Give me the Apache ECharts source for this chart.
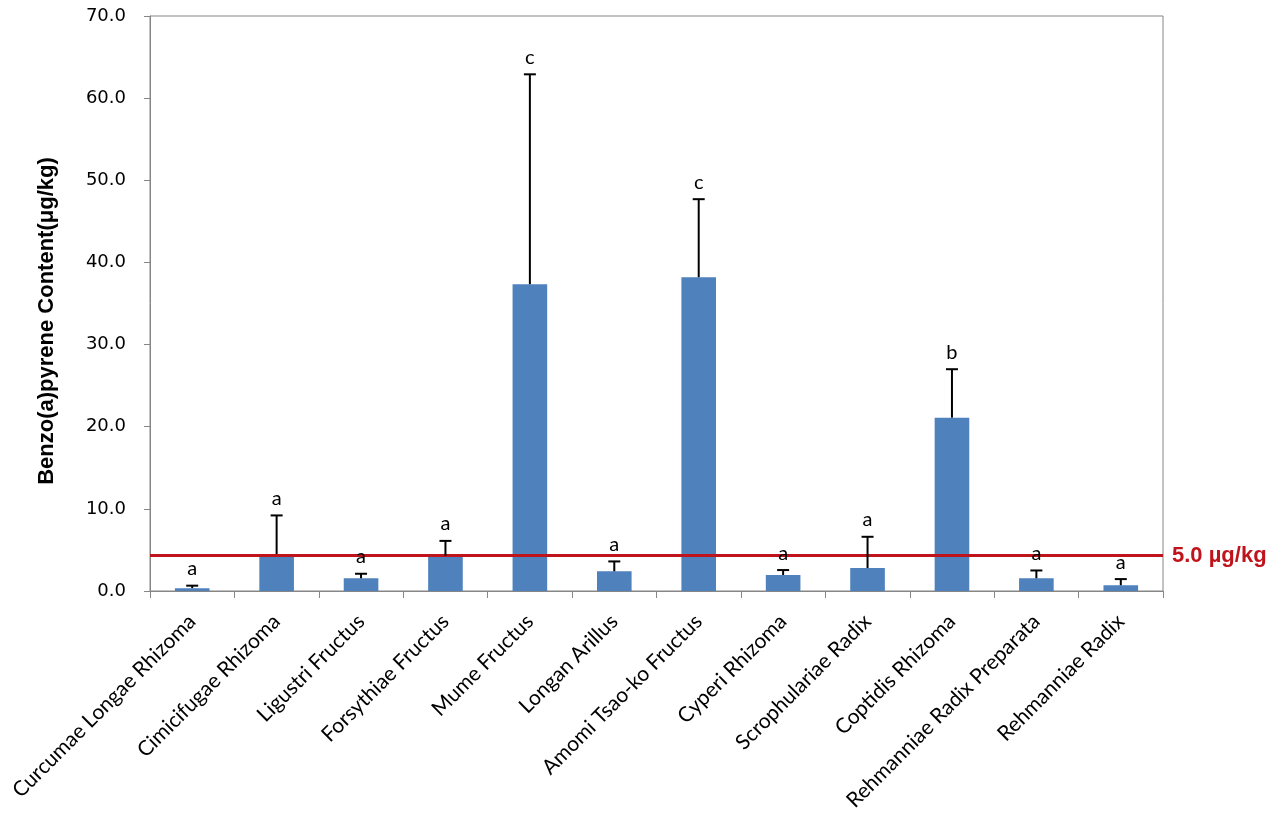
<!DOCTYPE html>
<html>
<head>
<meta charset="utf-8">
<script src="https://cdn.jsdelivr.net/npm/echarts@6/dist/echarts.min.js"></script>
<style>html,body{margin:0;padding:0;background:#fff}#c{width:1288px;height:818px}</style>
</head>
<body>
<div id="c"></div>
<script>
const categories = ['Curcumae Longae Rhizoma','Cimicifugae Rhizoma','Ligustri Fructus','Forsythiae Fructus','Mume Fructus','Longan Arillus','Amomi Tsao-ko Fructus','Cyperi Rhizoma','Scrophulariae Radix','Coptidis Rhizoma','Rehmanniae Radix Preparata','Rehmanniae Radix'];
const means = [0.35, 4.5, 1.55, 4.3, 37.35, 2.4, 38.2, 1.95, 2.8, 21.1, 1.55, 0.7];
const sds = [0.3, 4.7, 0.55, 1.8, 25.55, 1.2, 9.5, 0.6, 3.8, 5.9, 0.95, 0.75];
const letters = ['a','a','a','a','c','a','c','a','a','b','a','a'];
const yTicks = [0, 10, 20, 30, 40, 50, 60, 70];
const limitValue = 4.3;
const limitLabel = '5.0 µg/kg';
const yTitle = 'Benzo(a)pyrene Content(μg/kg)';

const chart = echarts.init(document.getElementById('c'), null, {renderer: 'canvas'});
const axisColor = '#868686';
chart.setOption({
  animation: false,
  grid: {left: 150, right: 125, top: 16, bottom: 227, show: true, borderColor: axisColor, borderWidth: 1, backgroundColor: 'transparent'},
  graphic: [{
    type: 'text', x: 47, y: 321, rotation: Math.PI / 2,
    style: {text: yTitle, align: 'center', verticalAlign: 'middle', fill: '#000', font: 'bold 22px "Liberation Sans"'}
  }],
  xAxis: {
    type: 'category', data: categories,
    axisLine: {lineStyle: {color: axisColor, width: 1}},
    axisTick: {show: true, length: 7, lineStyle: {color: axisColor}},
    axisLabel: {rotate: 45, interval: 0, margin: 27, color: '#000', fontFamily: 'Lato', fontSize: 21}
  },
  yAxis: {
    type: 'value', min: yTicks[0], max: yTicks[yTicks.length-1], interval: 10,
    axisLine: {show: true, lineStyle: {color: axisColor, width: 1}},
    axisTick: {show: true, length: 6, inside: false, lineStyle: {color: axisColor}},
    splitLine: {show: false},
    axisLabel: {formatter: v => v.toFixed(1), color: '#000', fontFamily: 'DejaVu Sans', fontSize: 18, margin: 24}
  },
  series: [
    {
      type: 'bar', data: means, barWidth: '41%',
      itemStyle: {color: '#4F81BD'},
      markLine: {
        silent: true, symbol: 'none',
        data: [{yAxis: limitValue}],
        lineStyle: {color: '#C0141C', width: 3, type: 'solid'},
        label: {show: true, position: 'end', formatter: limitLabel, color: '#C0141C', fontFamily: 'Liberation Sans', fontWeight: 'bold', fontSize: 22, distance: [9, 4]}
      }
    },
    {
      type: 'custom',
      data: means.map((m, i) => [i, m, m + sds[i]]),
      z: 5,
      renderItem: function (params, api) {
        const x = api.coord([api.value(0), api.value(1)])[0];
        const y0 = api.coord([api.value(0), api.value(1)])[1];
        const y1 = api.coord([api.value(0), api.value(2)])[1];
        const capHalf = 6;
        return {
          type: 'group',
          children: [
            {type: 'line', shape: {x1: x, y1: y0, x2: x, y2: y1}, style: {stroke: '#000', lineWidth: 2}},
            {type: 'line', shape: {x1: x - capHalf, y1: y1, x2: x + capHalf, y2: y1}, style: {stroke: '#000', lineWidth: 2}},
            {type: 'text', style: {text: letters[params.dataIndex], x: x, y: y1 - 7, align: 'center', verticalAlign: 'bottom', fill: '#000', font: '20px Lato'}}
          ]
        };
      }
    }
  ]
});
</script>
</body>
</html>
